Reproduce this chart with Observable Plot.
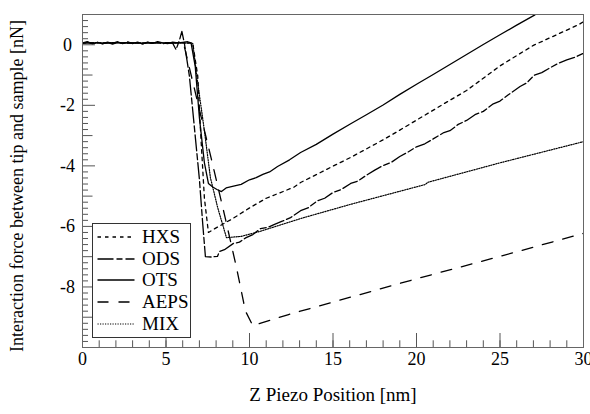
<!DOCTYPE html>
<html>
<head>
<meta charset="utf-8">
<script src="https://cdn.jsdelivr.net/npm/d3@7"></script>
<script src="https://cdn.jsdelivr.net/npm/@observablehq/plot@0.6"></script>
<style>
  html, body { margin: 0; padding: 0; background: white; }
  #wrap { position: relative; width: 590px; height: 414px; font-family: 'Liberation Serif', 'DejaVu Serif', serif; }
  #wrap svg text { font-family: 'Liberation Serif', 'DejaVu Serif', serif !important; }
  #legend { position: absolute; left: 92px; top: 223px; width: 97px; height: 113px; border: 1px solid #333; background: white; }
  #legend .row { position: absolute; left: 0; height: 20px; width: 97px; }
  #legend svg { position: absolute; left: 0; top: 0; }
  #legend span { position: absolute; left: 49px; top: 0; font-size: 19px; line-height: 20px; color: #000; font-family: 'Liberation Serif', 'DejaVu Serif', serif; }
</style>
</head>
<body>
<div id="wrap"></div>
<script>
// ---- data ----
const seriesNames = ["HXS", "ODS", "OTS", "AEPS", "MIX"];
const xTickLabels = [0, 5, 10, 15, 20, 25, 30];
const yTickLabels = [0, -2, -4, -6, -8];
const xTitle = "Z Piezo Position [nm]";
const yTitle = "Interaction force between tip and sample [nN]";

const hxsX = [0, 1, 2, 3, 4, 5, 6, 6.6, 6.9, 7.1, 7.3, 7.54, 8, 9, 10.06, 11, 12.64, 13.06, 14, 15, 16.06, 17, 18, 19, 20, 21.64, 23, 25.05, 27, 29.73, 30];
const hxsY = [0.06, 0.06, 0.07, 0.05, 0.06, 0.07, 0.06, 0.06, -1.03, -3.16, -5.07, -6.20, -6.05, -5.74, -5.37, -5.07, -4.71, -4.55, -4.29, -4.01, -3.72, -3.44, -3.14, -2.82, -2.49, -1.95, -1.51, -0.68, -0.02, 0.67, 0.76];

const odsX = [0, 0.3, 0.6, 0.9, 1.2, 1.5, 1.8, 2.1, 2.4, 2.7, 3, 3.3, 3.6, 3.9, 4.2, 4.5, 4.8, 5.1, 5.4, 5.6, 5.8, 5.95, 6.1, 6.4, 6.7, 7.0, 7.2, 7.36, 7.7, 8.08, 8.2, 8.5, 9.04, 9.4, 9.8, 10.2, 10.66, 11.1, 11.5, 12.0, 12.46, 13.06, 13.5, 14.08, 14.5, 15, 15.5, 16.06, 16.5, 17, 17.5, 18, 18.5, 19, 19.5, 20, 20.5, 21, 21.64, 22, 22.5, 23, 23.5, 24, 24.6, 25, 25.5, 26.2, 26.6, 27.04, 27.5, 28, 28.5, 29, 29.5, 29.97];
const odsY = [0.05, 0.09, 0.03, 0.08, 0.04, 0.07, 0.02, 0.08, 0.05, 0.1, 0.04, 0.07, 0.03, 0.09, 0.05, 0.08, 0.03, 0.07, 0.05, -0.16, 0.14, 0.44, 0.05, -1.03, -2.73, -4.44, -5.92, -7.00, -7.01, -6.99, -6.83, -6.77, -6.56, -6.52, -6.37, -6.27, -6.07, -6.03, -5.93, -5.82, -5.71, -5.48, -5.39, -5.15, -5.07, -4.88, -4.78, -4.58, -4.50, -4.31, -4.14, -3.99, -3.88, -3.69, -3.54, -3.37, -3.27, -3.11, -2.90, -2.84, -2.63, -2.50, -2.31, -2.20, -1.95, -1.86, -1.65, -1.38, -1.26, -1.01, -0.92, -0.76, -0.61, -0.50, -0.41, -0.29];

const otsX = [0, 0.3, 0.6, 0.9, 1.2, 1.5, 1.8, 2.1, 2.4, 2.7, 3, 3.3, 3.6, 3.9, 4.2, 4.5, 4.8, 5.1, 5.4, 5.7, 6, 6.3, 6.5, 6.75, 7.0, 7.3, 7.54, 7.8, 8.05, 8.32, 8.6, 8.98, 9.5, 10, 10.4, 10.8, 11.2, 11.68, 12.4, 13.06, 14, 15, 16.06, 17, 18, 19, 20.08, 21, 22, 23, 24, 25, 26, 27.04, 27.5];
const otsY = [0.06, 0.1, 0.04, 0.08, 0.03, 0.09, 0.05, 0.1, 0.04, 0.08, 0.05, 0.09, 0.03, 0.08, 0.05, 0.1, 0.06, 0.04, 0.09, 0.06, 0.08, 0.10, 0.06, -0.71, -2.41, -3.90, -4.58, -4.70, -4.78, -4.85, -4.73, -4.68, -4.61, -4.46, -4.39, -4.28, -4.20, -4.02, -3.80, -3.56, -3.29, -2.95, -2.61, -2.31, -1.99, -1.64, -1.28, -0.98, -0.65, -0.32, 0.01, 0.33, 0.65, 0.97, 1.15];

const aepsX = [0, 1, 2, 3, 4, 5, 5.7, 6.05, 7.06, 7.78, 8.5, 9.2, 9.76, 10.2, 11.74, 12.34, 15, 20, 25, 30];
const aepsY = [0.06, 0.06, 0.06, 0.06, 0.06, 0.06, 0.06, 0.05, -2.28, -3.92, -5.61, -7.31, -8.80, -9.28, -9.01, -8.91, -8.50, -7.73, -6.99, -6.23];

const mixX = [0, 1, 2, 3, 4, 5, 6, 6.6, 6.88, 7.3, 7.66, 8.1, 8.62, 9.5, 10.66, 13.06, 16.06, 20.5, 20.7, 25, 30];
const mixY = [0.06, 0.06, 0.06, 0.06, 0.06, 0.06, 0.06, 0.05, -1.18, -2.84, -4.39, -5.39, -6.37, -6.33, -6.16, -5.74, -5.27, -4.62, -4.54, -3.90, -3.20];

// ---- styles ----
const styles = {
  HXS:  {dash: "3.5,4", width: 1.3},
  ODS:  {dash: "16,3,6,3", width: 1.3},
  OTS:  {dash: null, width: 1.3},
  AEPS: {dash: "11,10", width: 1.3},
  MIX:  {dash: "1.2,1.3", width: 1.2}
};

const raw = {HXS: [hxsX, hxsY], ODS: [odsX, odsY], OTS: [otsX, otsY], AEPS: [aepsX, aepsY], MIX: [mixX, mixY]};
const table = seriesNames.flatMap(s => raw[s][0].map((x, i) => ({series: s, x, y: raw[s][1][i]})));

const W = 590, H = 414, mT = 14, mR = 7, mB = 67, mL = 82;
const pw = W - mL - mR, ph = H - mT - mB;
const FONT = "'Liberation Serif', 'DejaVu Serif', serif";

const xMinor = d3.range(0, 31);
const yAll = d3.range(-50, 6).map(i => i / 5);
const yMinor = yAll.filter(v => Math.abs(v - Math.round(v)) > 1e-6);
const yOdd = d3.range(-9, 2).filter(v => v % 2 !== 0);
const yEven = d3.range(-10, 2).filter(v => v % 2 === 0);
const tickColor = "#555";

const lineMarks = seriesNames.map(s => Plot.line(table.filter(d => d.series === s), {
  x: "x", y: "y", stroke: "black", strokeWidth: styles[s].width,
  strokeDasharray: styles[s].dash, clip: true, curve: "linear"
}));

const chart = Plot.plot({
  width: W, height: H, marginTop: mT, marginRight: mR, marginBottom: mB, marginLeft: mL,
  x: {domain: [0, 30], axis: null},
  y: {domain: [-10, 1], axis: null},
  style: {fontFamily: FONT, background: "white", color: "black"},
  marks: [
    ...lineMarks,
    Plot.tickX(xMinor, {x: d => d, stroke: tickColor, insetTop: ph - 6.7}),
    Plot.tickX(xTickLabels, {x: d => d, stroke: tickColor, insetTop: ph - 14}),
    Plot.tickY(yMinor, {y: d => d, stroke: tickColor, insetRight: pw - 6}),
    Plot.tickY(yOdd, {y: d => d, stroke: tickColor, insetRight: pw - 10.5}),
    Plot.tickY(yEven, {y: d => d, stroke: tickColor, insetRight: pw - 13}),
    Plot.text(xTickLabels, {x: d => d, frameAnchor: "bottom", dy: 17, fontSize: 18, fill: "black", fontFamily: FONT}),
    Plot.text(yTickLabels, {y: d => d, frameAnchor: "left", dx: -15, textAnchor: "middle", fontSize: 18, fill: "black", fontFamily: FONT}),
    Plot.text([xTitle], {frameAnchor: "bottom", dy: 53, textAnchor: "middle", fontSize: 19, fill: "black", fontFamily: FONT}),
    Plot.text([yTitle], {frameAnchor: "left", dx: -65, dy: 5, rotate: -90, textAnchor: "middle", fontSize: 18, fill: "black", fontFamily: FONT}),
    Plot.frame({stroke: "#666"})
  ]
});

const wrap = document.getElementById("wrap");
wrap.appendChild(chart);

// legend
const legend = document.createElement("div");
legend.id = "legend";
seriesNames.forEach((s, i) => {
  const row = document.createElement("div");
  row.className = "row";
  row.style.top = (3 + i * 21.7) + "px";
  const dash = styles[s].dash ? ` stroke-dasharray="${styles[s].dash}"` : "";
  row.innerHTML = `<svg width="46" height="20"><line x1="4.5" x2="41.5" y1="10" y2="10" stroke="black" stroke-width="${styles[s].width}"${dash}/></svg><span>${s}</span>`;
  legend.appendChild(row);
});
wrap.appendChild(legend);
</script>
</body>
</html>
